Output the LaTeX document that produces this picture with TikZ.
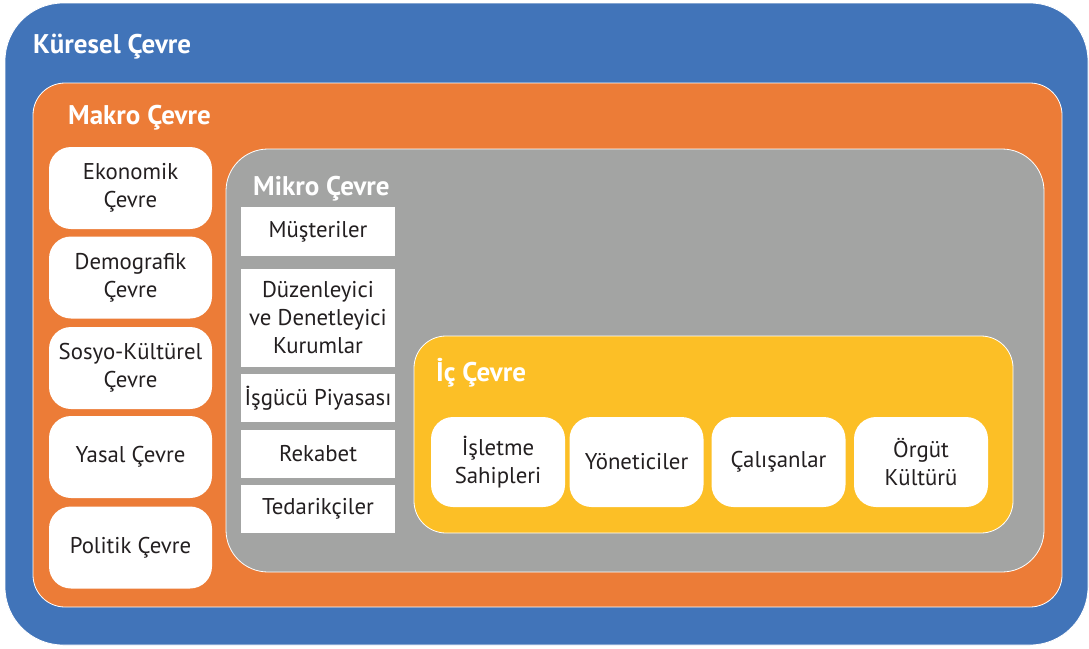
\documentclass[tikz,border=0pt]{standalone}
\usepackage{fontspec}
\setmainfont{PT Sans}
\definecolor{kblue}{RGB}{65,116,185}
\definecolor{korange}{RGB}{236,124,55}
\definecolor{kgray}{RGB}{163,164,163}
\definecolor{kyellow}{RGB}{252,191,38}
\definecolor{ktext}{RGB}{35,31,32}
\begin{document}
\begin{tikzpicture}[x=1pt,y=-1pt,
  layer/.style={draw=white,line width=0.8pt,inner sep=0pt,outer sep=0pt},
  title/.style={anchor=west,inner sep=0pt,text=white,font=\fontsize{27}{31}\selectfont\bfseries},
  roundbox/.style={fill=white,inner sep=0pt,outer sep=0pt,rounded corners=22pt,
    align=center,text=ktext,font=\fontsize{22.8}{28}\selectfont},
  flatbox/.style={fill=white,inner sep=0pt,outer sep=0pt,minimum width=154pt,
    align=center,text=ktext,font=\fontsize{22.8}{28}\selectfont}]
\useasboundingbox (0,0) rectangle (1089,648);

% nested environment layers
\node[layer,fill=kblue,rounded corners=58pt,minimum width=1083pt,minimum height=642pt] (kuresel) at (546.5,324) {};
\node[layer,fill=korange,rounded corners=32pt,minimum width=1029pt,minimum height=524pt] (makro) at (547.5,345) {};
\node[layer,fill=kgray,rounded corners=42pt,minimum width=818pt,minimum height=423pt] (mikro) at (635,360.5) {};
\node[layer,fill=kyellow,rounded corners=32pt,minimum width=599pt,minimum height=197pt] (ic) at (713.5,434.5) {};

% layer titles
\node[title] (tkuresel) at (33,47) {Küresel Çevre};
\node[title] (tmakro) at (68,118) {Makro Çevre};
\node[title] (tmikro) at (253,189) {Mikro Çevre};
\node[title] (tic) at (436,373) {İç Çevre};

% macro environment factors
\begin{scope}[every node/.style={roundbox,minimum width=163pt,minimum height=82pt}]
\node (ekonomik) at (130.5,188) {Ekonomik\\Çevre};
\node (demografik) at (130.5,277.5) {Demografik\\Çevre};
\node (sosyo) at (130.5,368) {Sosyo-Kültürel\\Çevre};
\node (yasal) at (130.5,457) {Yasal Çevre};
\node (politik) at (130.5,547.5) {Politik Çevre};
\end{scope}

% micro environment factors
\node[flatbox,minimum height=49pt] (musteriler) at (318,231.5) {Müşteriler};
\node[flatbox,minimum height=98pt] (duzenleyici) at (318,318) {Düzenleyici\\ve Denetleyici\\Kurumlar};
\node[flatbox,minimum height=48pt] (isgucu) at (318,398) {İşgücü Piyasası};
\node[flatbox,minimum height=48pt] (rekabet) at (318,454) {Rekabet};
\node[flatbox,minimum height=48pt] (tedarik) at (318,509) {Tedarikçiler};

% internal environment factors
\begin{scope}[every node/.style={roundbox,minimum width=134pt,minimum height=90pt}]
\node (isletme) at (498,462) {İşletme\\Sahipleri};
\node (yonetici) at (636.5,462) {Yöneticiler};
\node (calisan) at (778.5,462) {Çalışanlar};
\node (orgut) at (921,462) {Örgüt\\Kültürü};
\end{scope}
\end{tikzpicture}
\end{document}
